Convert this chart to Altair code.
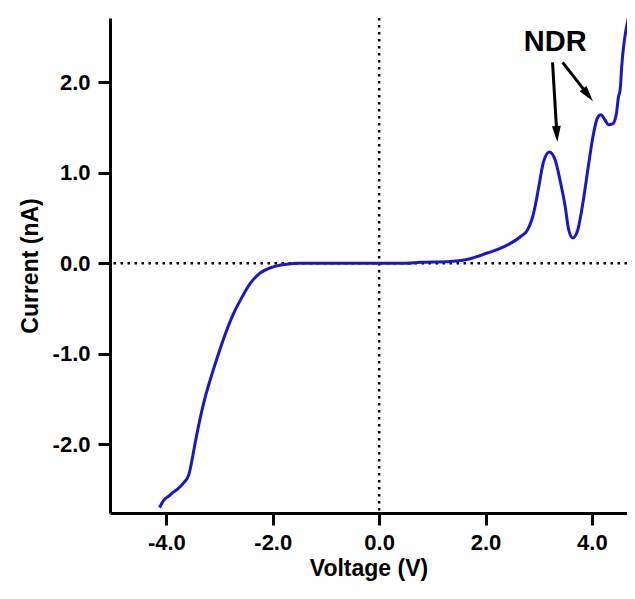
import altair as alt
import pandas as pd
import math

# ---- data ----
voltage = [-4.13, -4.05, -3.95, -3.87, -3.78, -3.68, -3.58, -3.52, -3.46, -3.36, -3.27,
           -3.14, -3.02, -2.89, -2.74, -2.61, -2.42, -2.24, -1.99, -1.73, -1.52,
           -1.0, -0.5, 0.0, 0.5, 0.77, 1.33, 1.71, 2.02, 2.34, 2.65, 2.78, 2.87,
           2.93, 3.00, 3.09, 3.20, 3.31, 3.40, 3.50, 3.56, 3.64, 3.73, 3.84, 3.93,
           4.03, 4.10, 4.17, 4.25, 4.31, 4.39, 4.46, 4.50, 4.53, 4.56, 4.69]
current = [-2.70, -2.62, -2.57, -2.53, -2.49, -2.43, -2.34, -2.18, -1.99, -1.70, -1.48,
           -1.22, -1.00, -0.78, -0.56, -0.41, -0.22, -0.11, -0.04, -0.01, 0.0,
           0.0, 0.0, 0.0, 0.0, 0.01, 0.02, 0.05, 0.11, 0.18, 0.29, 0.36, 0.48,
           0.62, 0.84, 1.12, 1.23, 1.14, 0.92, 0.62, 0.38, 0.28, 0.36, 0.70, 1.06,
           1.43, 1.60, 1.64, 1.58, 1.53, 1.54, 1.65, 1.84, 1.91, 2.17, 2.72]

x_ticks = [-4, -2, 0, 2, 4]
y_ticks = [-2, -1, 0, 1, 2]
x_domain = [-5.06, 4.66]
y_domain = [-2.76, 2.71]

label_text = ["NDR"]
label_v = [3.31]
label_i = [2.44]
arrow_start_v = [3.26, 3.45]
arrow_start_i = [2.22, 2.22]
arrow_tip_v = [3.35, 4.02]
arrow_tip_i = [1.34, 1.79]

W, H = 517, 495
px_v = W / (x_domain[1] - x_domain[0])
px_i = H / (y_domain[1] - y_domain[0])

curve = pd.DataFrame({"V": voltage, "I": current})
labels = pd.DataFrame({"t": label_text, "V": label_v, "I": label_i})
arrows = []
for sv, si, tv, ti in zip(arrow_start_v, arrow_start_i, arrow_tip_v, arrow_tip_i):
    dx = (tv - sv) * px_v
    dy = -(ti - si) * px_i
    ang = math.degrees(math.atan2(dx, -dy)) % 360
    arrows.append({"V": sv, "I": si,
                   "V2": sv + (tv - sv) * 0.88, "I2": si + (ti - si) * 0.88,
                   "TV": tv, "TI": ti, "ang": ang})
arrows = pd.DataFrame(arrows)

lab_expr = "datum.value < 0 ? '-' + format(-datum.value, '.1f') : format(datum.value, '.1f')"
xscale = alt.Scale(domain=x_domain, nice=False, zero=False)
yscale = alt.Scale(domain=y_domain, nice=False, zero=False)

xenc = alt.X("V:Q", scale=xscale,
             axis=alt.Axis(values=x_ticks, labelExpr=lab_expr, title="Voltage (V)",
                           titlePadding=4, labelPadding=7))
yenc = alt.Y("I:Q", scale=yscale,
             axis=alt.Axis(values=y_ticks, labelExpr=lab_expr, title="Current (nA)",
                           titlePadding=10, labelPadding=8))

zero_df = pd.DataFrame({"z": [0]})
hline = alt.Chart(zero_df).mark_rule(color="black", strokeWidth=2.5, strokeDash=[2.5, 4.5]).encode(
    y=alt.Y("z:Q", scale=yscale))
vline = alt.Chart(zero_df).mark_rule(color="black", strokeWidth=2.5, strokeDash=[2.5, 4.5]).encode(
    x=alt.X("z:Q", scale=xscale))

line = alt.Chart(curve).mark_line(color="#1818c8", strokeWidth=3, interpolate="monotone",
                                  clip=True).encode(x=xenc, y=yenc, order="V:Q")

shafts = alt.Chart(arrows).mark_rule(color="black", strokeWidth=3).encode(
    x=alt.X("V:Q", scale=xscale), y=alt.Y("I:Q", scale=yscale), x2="V2:Q", y2="I2:Q")
heads = alt.Chart(arrows).mark_point(shape="M0,0L0.55,2L-0.55,2Z", size=256, filled=True,
                                     color="black", opacity=1).encode(
    x=alt.X("TV:Q", scale=xscale), y=alt.Y("TI:Q", scale=yscale),
    angle=alt.Angle("ang:Q", scale=None))
text = alt.Chart(labels).mark_text(font="Liberation Sans", fontWeight="bold", fontSize=29,
                                   align="center", baseline="middle", color="black").encode(
    x=alt.X("V:Q", scale=xscale), y=alt.Y("I:Q", scale=yscale), text="t:N")

chart = alt.layer(hline, vline, line, shafts, heads, text).properties(
    width=W, height=H,
    autosize=alt.AutoSizeParams(type="none"),
    padding={"left": 102, "top": 10, "right": 0, "bottom": 76},
).configure_view(stroke=None).configure_axis(
    grid=False, domainColor="black", domainWidth=3, tickColor="black", tickWidth=3,
    tickSize=12, labelFont="Liberation Sans", labelFontWeight="bold", labelFontSize=22,
    labelColor="black", titleFont="Liberation Sans", titleFontWeight="bold",
    titleFontSize=23, titleColor="black"
)

chart.save("out.html", embed_options={"renderer": "svg", "actions": False})
